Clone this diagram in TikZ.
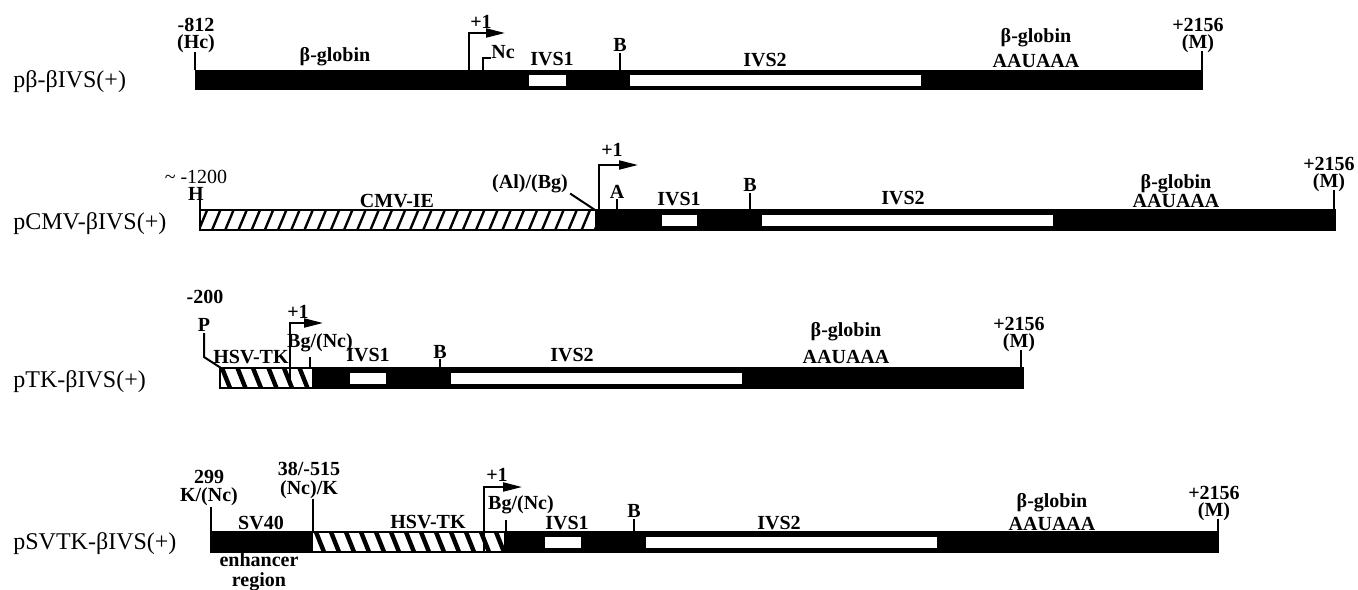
\documentclass[tikz,border=0pt]{standalone}
\usepackage{fontspec}
\setmainfont{Liberation Serif}
\usetikzlibrary{arrows.meta}

\begin{document}
\begin{tikzpicture}[
  x = 0.5pt, y = -0.5pt,
  every node/.style = {inner sep = 0pt},
  lbl/.style = {font = \fontsize{10}{8.5}\selectfont\bfseries, align = center},
  rowname/.style = {font = \fontsize{12}{14}\selectfont, anchor = west},
  tick/.style = {line width = 1pt},
  tss/.style = {line width = 1pt, -{Triangle[length = 9.5pt, width = 4.5pt]}},
  fwdstripe/.style = {line width = 1.2pt},
  bckstripe/.style = {line width = 2.2pt},
  rim/.style = {line width = 1pt}
]
\useasboundingbox (0,0) rectangle (1358,589);

% pb-bIVS(+)
\node[rowname] (row1) at (13,82) {pβ-βIVS(+)};
\fill (195,70) rectangle (1203,90);
\fill[white] (529,75) rectangle (566,86);
\fill[white] (630,75) rectangle (921,86);
\node[lbl] (hc) at (196,35) {-812\\(Hc)};
\draw[tick] (195,52) -- (195,70);
\node[lbl] (glob1) at (335,57) {β-globin};
\draw[tss] (469,70) |- (505,33);
\node[lbl] (plus1a) at (481,22) {+1};
\draw[tick] (483,70) |- (491,58);
\node[lbl, anchor = west] (nc1) at (491,52) {Nc};
\node[lbl] (ivs1a) at (552,59) {IVS1};
\node[lbl] (b1) at (620,45) {B};
\draw[tick] (620,53) -- (620,70);
\node[lbl] (ivs2a) at (765,60) {IVS2};
\node[lbl] (aau1) at (1036,48) {β-globin\\[2.5pt]AAUAAA};
\node[lbl] (m1) at (1198,36) {+2156\\(M)};
\draw[tick] (1202,51) -- (1202,70);

% pCMV-bIVS(+)
\node[rowname] (row2) at (13,224) {pCMV-βIVS(+)};
\fill (595,210) rectangle (1335,230);
\fill[white] (200,210) rectangle (595,230);
\begin{scope}
  \clip (200,210) rectangle (595,230);
  \foreach \i in {0,...,30}
    \draw[fwdstripe] ({198+13.2*\i},232) -- ++(10,-24);
\end{scope}
\draw[rim] (200,210) rectangle (1335,230);
\fill[white] (662,215) rectangle (697,226);
\fill[white] (762,215) rectangle (1053,226);
\node[lbl] (h2) at (196,185) {{\mdseries\textasciitilde{} -1200}\\H};
\draw[tick] (200,200) -- (200,210);
\node[lbl] (cmv) at (397,201) {CMV-IE};
\node[lbl] (albg) at (530,184) {(Al)/(Bg)};
\draw[tick] ([xshift = 1pt]albg.south east) -- (595,210);
\draw[tss] (599,210) |- (638,165);
\node[lbl] (plus1b) at (612,150) {+1};
\node[lbl] (a2) at (617,192) {A};
\draw[tick] (617,199) -- (617,210);
\node[lbl] (ivs1b) at (679,199) {IVS1};
\node[lbl] (b2) at (750,185) {B};
\draw[tick] (750,193) -- (750,210);
\node[lbl] (ivs2b) at (903,198) {IVS2};
\node[lbl] (aau2) at (1176,191) {β-globin\\AAUAAA};
\node[lbl] (m2) at (1329,175) {+2156\\(M)};
\draw[tick] (1334,190) -- (1334,210);

% pTK-bIVS(+)
\node[rowname] (row3) at (13,382) {pTK-βIVS(+)};
\fill (312,368) rectangle (1023,388);
\fill[white] (220,368) rectangle (312,388);
\begin{scope}
  \clip (220,368) rectangle (312,388);
  \foreach \i in {0,...,6}
    \draw[bckstripe] ({222+15.5*\i},368) -- ++(8,20);
\end{scope}
\draw[rim] (220,368) rectangle (1023,388);
\fill[white] (350,373) rectangle (386,384);
\fill[white] (451,373) rectangle (742,384);
\node[lbl] (m200) at (205,297) {-200};
\node[lbl] (p3) at (204,325) {P};
\draw[tick] (204,333) -- (204,357) -- (221,368);
\node[lbl] (hsv3) at (251,357) {HSV-TK};
\draw[tss] (290,388) |- (323,323);
\node[lbl] (plus1c) at (298,312) {+1};
\node[lbl] (bgnc3) at (320,343) {Bg/(Nc)};
\draw[tick] (310,357) -- (310,368);
\node[lbl] (ivs1c) at (368,355) {IVS1};
\node[lbl] (b3) at (440,352) {B};
\draw[tick] (440,359) -- (440,368);
\node[lbl] (ivs2c) at (572,355) {IVS2};
\node[lbl] (aau3) at (846,343) {β-globin\\[4pt]AAUAAA};
\node[lbl] (m3) at (1019,335) {+2156\\(M)};
\draw[tick] (1021,350) -- (1021,368);

% pSVTK-bIVS(+)
\node[rowname] (row4) at (13,544) {pSVTK-βIVS(+)};
\fill (211,532) rectangle (1218,552);
\fill[white] (313,532) rectangle (504,552);
\begin{scope}
  \clip (313,532) rectangle (504,552);
  \foreach \i in {0,...,12}
    \draw[bckstripe] ({316+15*\i},532) -- ++(8,20);
\end{scope}
\draw[rim] (211,532) rectangle (1218,552);
\fill[white] (545,537) rectangle (581,548);
\fill[white] (646,537) rectangle (937,548);
\node[lbl] (knc) at (209,488) {299\\[0.5pt]K/(Nc)};
\draw[tick] (211,507) -- (211,532);
\node[lbl] (nck) at (309,480) {38/-515\\[1pt](Nc)/K};
\draw[tick] (313,499) -- (313,532);
\node[lbl] (sv40) at (261,523) {SV40};
\node[lbl] (hsv4) at (428,522) {HSV-TK};
\draw[tss] (484,552) |- (522,487);
\node[lbl] (plus1d) at (497,475) {+1};
\node[lbl] (bgnc4) at (521,505) {Bg/(Nc)};
\draw[tick] (506,520) -- (506,532);
\node[lbl] (ivs1d) at (567,523) {IVS1};
\node[lbl] (b4) at (634,511) {B};
\draw[tick] (634,519) -- (634,532);
\node[lbl] (ivs2d) at (779,523) {IVS2};
\node[lbl] (aau4) at (1052,512) {β-globin\\[1.5pt]AAUAAA};
\node[lbl] (m4) at (1214,503) {+2156\\(M)};
\draw[tick] (1218,519) -- (1218,532);
\node[lbl] (enh) at (259,572) {enhancer\\[1.5pt]region};
\end{tikzpicture}
\end{document}
